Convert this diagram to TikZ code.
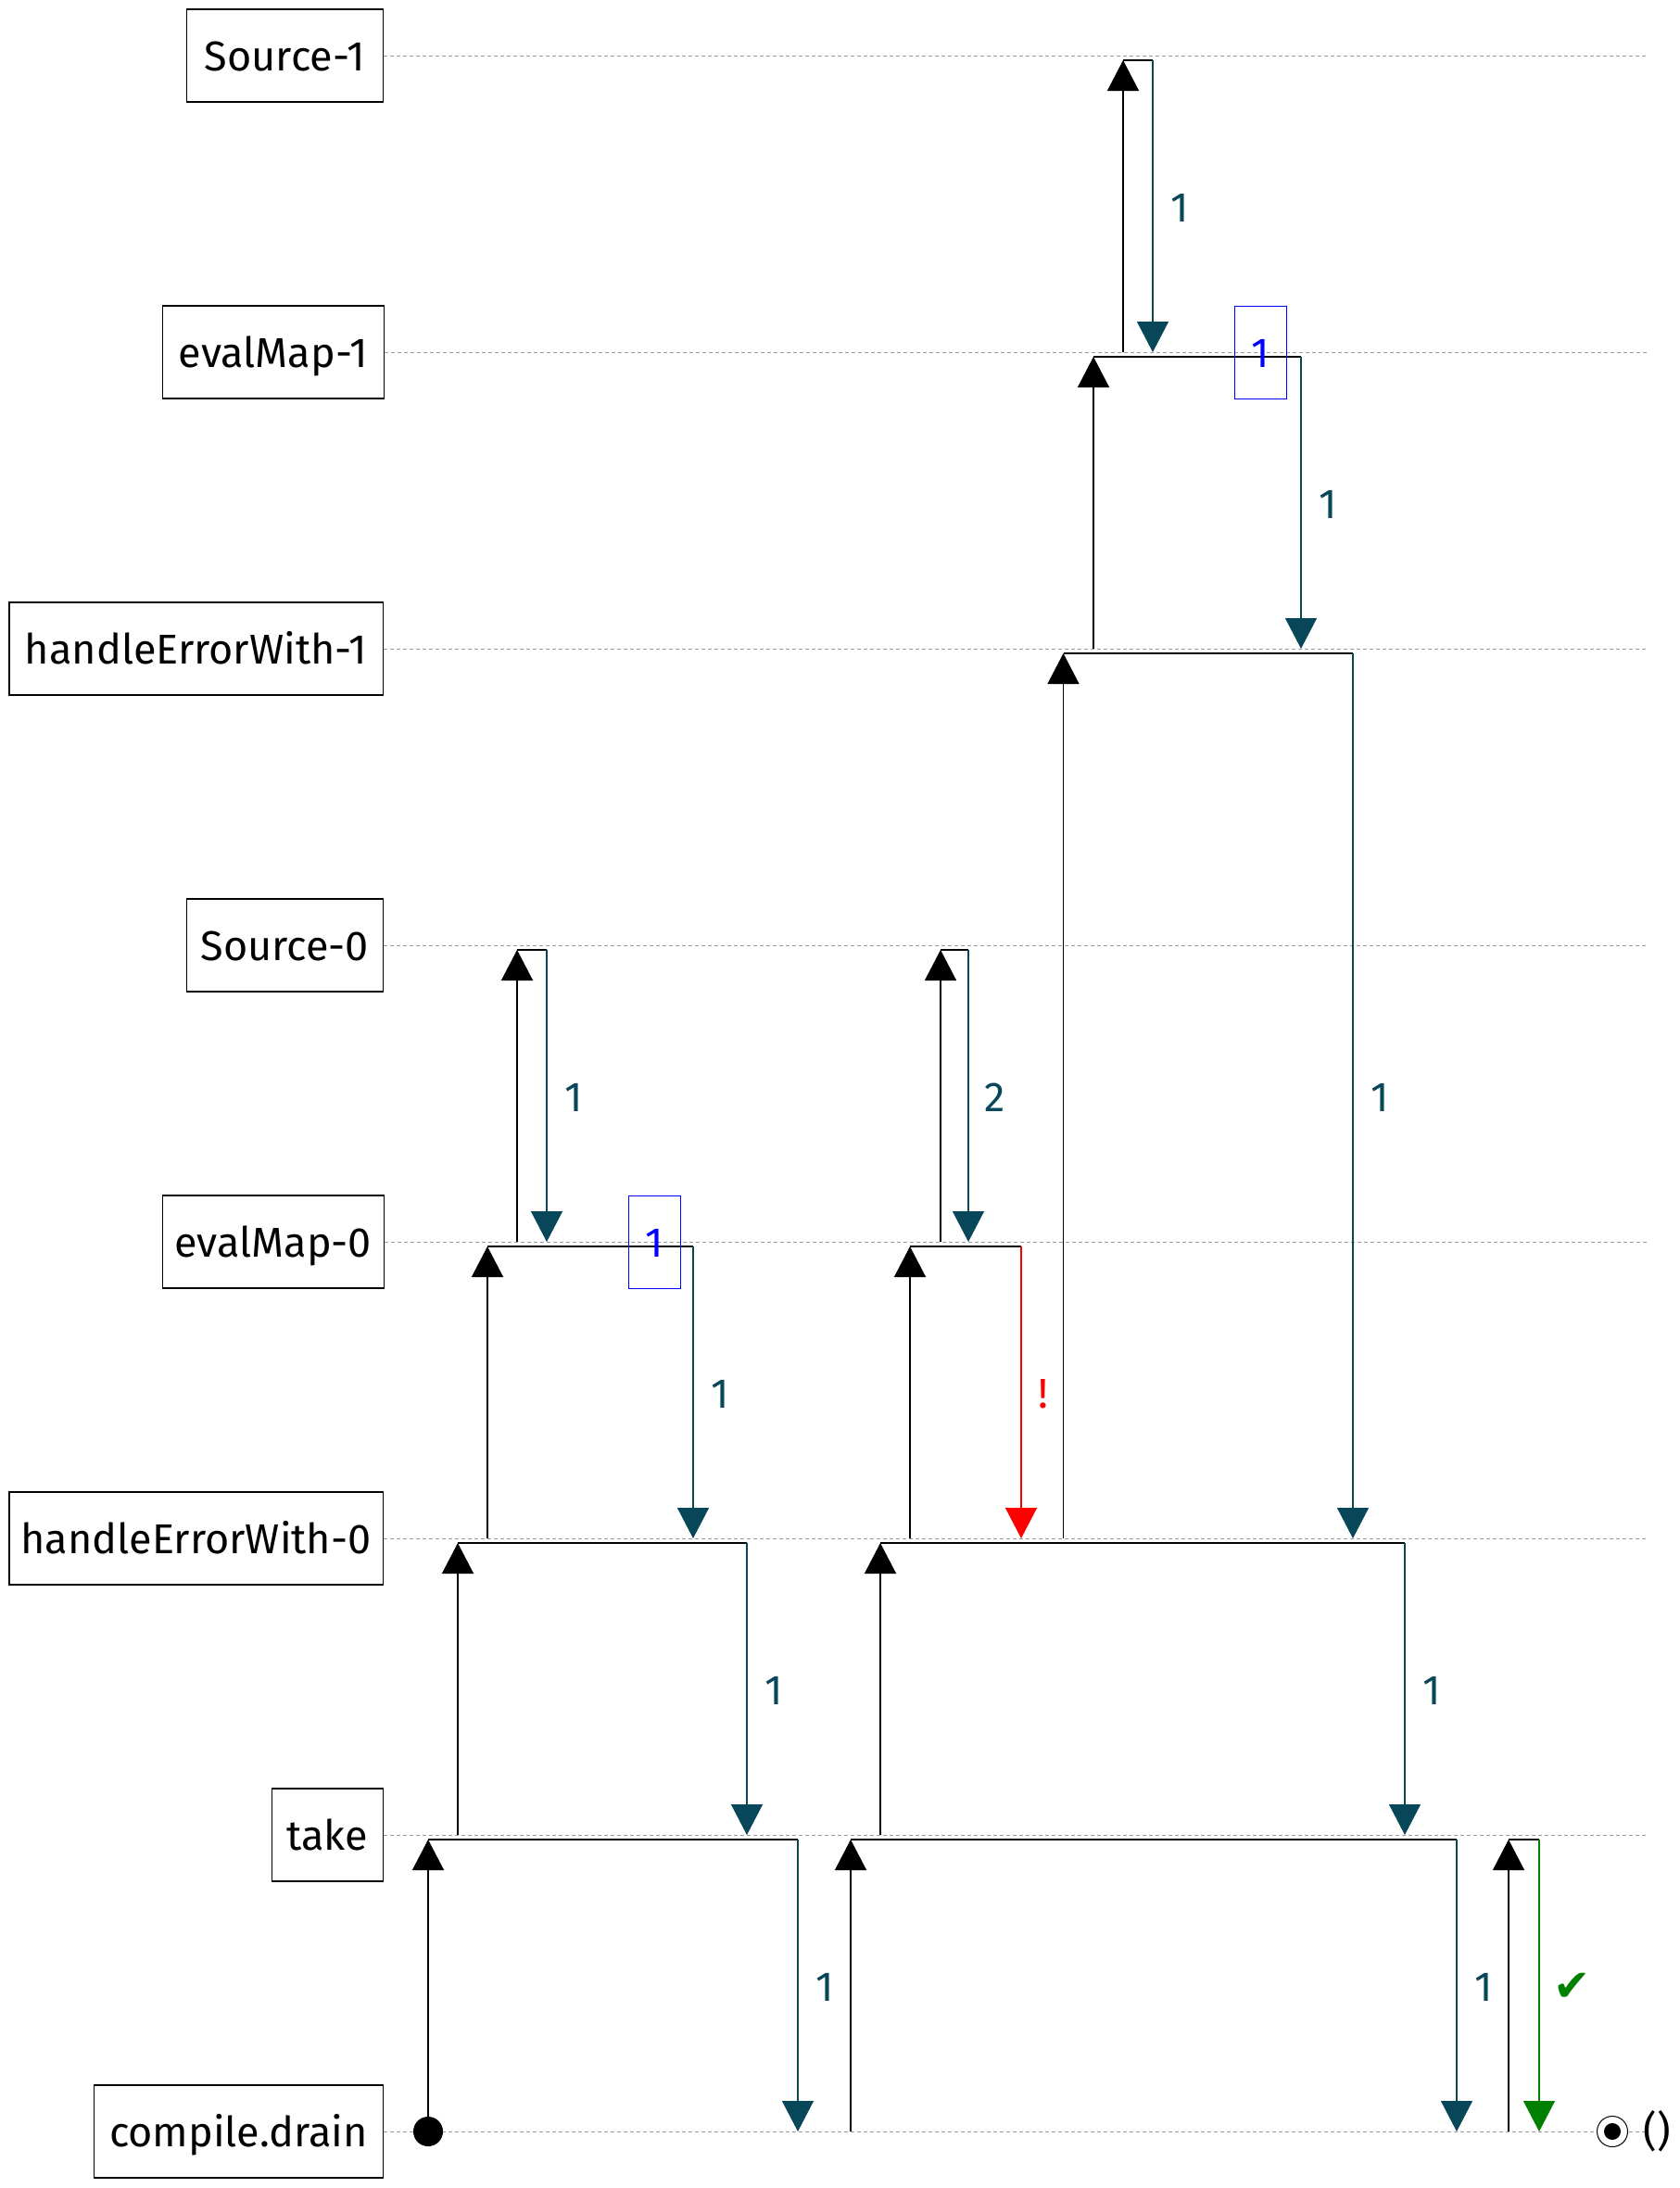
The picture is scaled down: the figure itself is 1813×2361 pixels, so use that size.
\documentclass[tikz,border=0pt]{standalone}
\usepackage{fontspec}
\setmainfont{Fira Sans}
\newfontfamily\symfont{DejaVu Sans}
\usetikzlibrary{arrows.meta}
\definecolor{tealc}{RGB}{8,71,90}
\definecolor{okgreen}{RGB}{0,128,0}
\newcommand\bigfont{\fontsize{22.5}{27}\selectfont}
% #1 name, #2 x of up line, #3 x of down line, #4 upper row y, #5 lower row y, #6 colour, #7 label, #8 label shift
\newcommand\exch[8]{%
  \coordinate (#1b) at (#2,#5);
  \coordinate (#1t) at (#2,#4+5);
  \coordinate (#1u) at (#3,#4+5);
  \coordinate (#1d) at (#3,#5);
  \draw[upln] (#1b) -- (#1t);
  \draw[topln] (#1t) -- (#1u);
  \draw[dnln,color=#6] (#1u) -- node[lbl,color=#6,xshift=#8] (#1l) {#7} (#1d);
}
\begin{document}
\begin{tikzpicture}[x=0.5pt,y=-0.5pt,
  lane/.style={draw, line width=0.7pt, minimum height=50pt, inner sep=0pt, anchor=east,
    text height=16.5pt, text depth=0pt, font=\bigfont},
  guide/.style={gray!80, line width=0.5pt, dash pattern=on 2pt off 1.5pt},
  upln/.style={black, line width=0.7pt, -{Triangle[width=17pt,length=16.5pt]}},
  topln/.style={black, line width=0.7pt},
  dnln/.style={line width=0.7pt, -{Triangle[width=17pt,length=16.5pt]}},
  lbl/.style={font=\bigfont, text height=16.5pt, text depth=0pt, inner sep=0pt},
  bluebox/.style={draw=blue, text=blue, line width=0.5pt, minimum width=28pt, minimum height=50pt,
    inner sep=0pt, font=\bigfont, text height=16.5pt, text depth=0pt}
]
\useasboundingbox (0,0) rectangle (1813,2361);

% lanes
\node[lane, minimum width=106pt]   (s1) at (414,60)   {Source-1};
\node[lane, minimum width=119.5pt] (e1) at (415,380)  {evalMap-1};
\node[lane, minimum width=201.75pt](h1) at (414,700)  {handleErrorWith-1};
\node[lane, minimum width=106pt]   (s0) at (414,1020) {Source-0};
\node[lane, minimum width=119.5pt] (e0) at (415,1340) {evalMap-0};
\node[lane, minimum width=201.75pt](h0) at (414,1660) {handleErrorWith-0};
\node[lane, minimum width=60pt]    (tk) at (414,1980) {take};
\node[lane, minimum width=156pt]   (cd) at (414,2300) {compile.drain};

% guide lines
\foreach \n/\y in {s1/60,e1/380,h1/700,s0/1020,e0/1340,h0/1660,tk/1980,cd/2300}{
  \coordinate (\n end) at (1778,\y);
  \draw[guide] (\n.east) -- (\n end);
}

% start dot
\node[circle, fill=black, minimum size=16pt, inner sep=0pt] (dot) at (462,2300) {};

% exchanges
\exch{A}{462}{861}{1980}{2300}{tealc}{1}{14.5pt}
\exch{B}{494}{806}{1660}{1980}{tealc}{1}{14.5pt}
\exch{C}{526}{748}{1340}{1660}{tealc}{1}{14.5pt}
\exch{D}{558}{590}{1020}{1340}{tealc}{1}{14.5pt}
\exch{E}{918}{1572}{1980}{2300}{tealc}{1}{14.5pt}
\exch{F}{950}{1516}{1660}{1980}{tealc}{1}{14.5pt}
\exch{G}{982}{1102}{1340}{1660}{red}{!}{12pt}
\exch{H}{1015}{1045}{1020}{1340}{tealc}{2}{14.5pt}
\exch{I}{1147.5}{1460}{700}{1660}{tealc}{1}{14.5pt}
\exch{J}{1180}{1404}{380}{700}{tealc}{1}{14.5pt}
\exch{K}{1212}{1244}{60}{380}{tealc}{1}{14.5pt}
\exch{L}{1628}{1661}{1980}{2300}{okgreen}{{\symfont\fontsize{24}{26}\selectfont ✔}}{18pt}

% buffered values
\node[bluebox] (bx0) at (706,1340) {1};
\node[bluebox] (bx1) at (1360.5,380) {1};

% end marker
\node[circle, draw, fill=white, line width=0.5pt, minimum size=16.5pt, inner sep=0pt] (endc) at (1740,2300) {};
\node[circle, fill=black, minimum size=9pt, inner sep=0pt] (endd) at (endc.center) {};
\node[font=\bigfont, inner sep=0pt] (unit) at (1788,2300) {()};
\end{tikzpicture}
\end{document}
